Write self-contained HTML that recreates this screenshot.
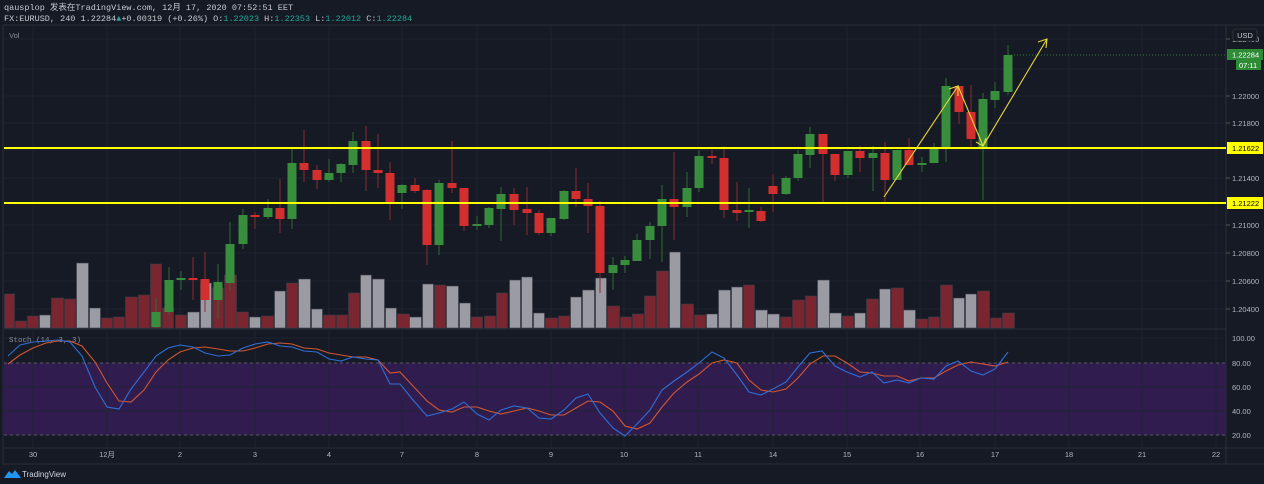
<!DOCTYPE html>
<html><head><meta charset="utf-8"><style>
html,body{margin:0;padding:0;background:#161a25;width:1264px;height:484px;overflow:hidden}
svg{display:block;font-family:"Liberation Sans","Noto Sans CJK SC",sans-serif}
</style></head><body>
<svg id="s" width="1264" height="484" viewBox="0 0 1264 484" xmlns="http://www.w3.org/2000/svg">
<rect width="1264" height="484" fill="#161a25"/>
<text x="4" y="10" font-size="8.5" fill="#c8cad0" font-family="Liberation Mono, Noto Sans CJK SC, monospace">qausplop 发表在TradingView.com, 12月 17, 2020 07:52:51 EET</text>
<text x="4" y="21" font-size="8.5" fill="#c8cad0" font-family="Liberation Mono, monospace">FX:EURUSD, 240 1.22284<tspan fill="#26a69a">▲</tspan>+0.00319 (+0.26%) O:<tspan fill="#26a69a">1.22023</tspan> H:<tspan fill="#26a69a">1.22353</tspan> L:<tspan fill="#26a69a">1.22012</tspan> C:<tspan fill="#26a69a">1.22284</tspan></text>
<g id="g"></g>
</svg>
<script>
var g=document.getElementById('g'),h='';
function L(x1,y1,x2,y2,c,w,extra){h+='<line x1="'+x1+'" y1="'+y1+'" x2="'+x2+'" y2="'+y2+'" stroke="'+c+'" stroke-width="'+(w||1)+'" '+(extra||'')+'/>';}
function R(x,y,w,hh,c,extra){h+='<rect x="'+x+'" y="'+y+'" width="'+w+'" height="'+hh+'" fill="'+c+'" '+(extra||'')+'/>';}
function T(x,y,t,c,s,a){h+='<text x="'+x+'" y="'+y+'" fill="'+c+'" font-size="'+(s||8)+'" '+(a?'text-anchor="'+a+'"':'')+'>'+t+'</text>';}
// pane borders
L(3,25,1264,25,'#2a2e39');L(3,25,3,465,'#2a2e39');L(1226,25,1226,465,'#2a2e39');
L(3,329,1226,329,'#2a2e39');L(3,448,1264,448,'#2a2e39');L(3,464,1264,464,'#2a2e39');
// stoch band
R(4,363,1222,72,'#311c50');
// grid
var days=[[33,'30'],[107,'12月'],[180,'2'],[255,'3'],[329,'4'],[402,'7'],[477,'8'],[551,'9'],[624,'10'],[698,'11'],[773,'14'],[847,'15'],[920,'16'],[995,'17'],[1069,'18'],[1142,'21'],[1216,'22']];
days.forEach(function(d){L(d[0],26,d[0],447,'#1f2330');T(d[0],457,d[1],'#b2b5be',7.5,'middle');});
var pr=[[39,'1.22400'],[96,'1.22000'],[123,'1.21800'],[178,'1.21400'],[225,'1.21000'],[253,'1.20800'],[281,'1.20600'],[309,'1.20400']];
pr.forEach(function(p){L(4,p[0],1226,p[0],'#1f2330');L(1226,p[0],1230,p[0],'#555');T(1232,p[0]+3,p[1],'#b2b5be',7.5);});
L(4,69,1226,69,'#1f2330');L(4,150,1226,150,'#1f2330');
[[338,'100.00'],[363,'80.00'],[387,'60.00'],[411,'40.00'],[435,'20.00']].forEach(function(p){L(4,p[0],1226,p[0],'#1f2330');T(1232,p[0]+3,p[1],'#b2b5be',7.5);});
L(4,363,1226,363,'#5d5668',1,'stroke-dasharray="3,3"');L(4,435,1226,435,'#5d5668',1,'stroke-dasharray="3,3"');
T(9,38,'Vol','#8a8e99',7.5);
h+='<text x="9" y="342" fill="#8a8e99" font-size="7.5" font-family="Liberation Mono,monospace">Stoch (14, 3, 3)</text>';
// volume
var V=[[4,14,294,'r'],[15,26,321,'r'],[27,38,316,'r'],[39,50,315,'g'],[51,63,298,'r'],[64,75,299,'r'],[76,88,263,'g'],[89,100,308,'g'],[101,112,318,'r'],[113,124,317,'r'],[125,137,297,'r'],[138,149,295,'r'],[150,161,264,'r'],[162,173,308,'r'],[175,186,315,'r'],[187,199,312,'g'],[212,223,288,'r'],[200,211,283,'g'],[224,236,275,'r'],[236,248,312,'r'],[249,260,317,'g'],[261,273,316,'r'],[274,285,291,'g'],[286,297,283,'r'],[298,310,279,'g'],[311,322,309,'g'],[323,335,315,'r'],[336,347,315,'r'],[348,359,293,'r'],[360,371,275,'g'],[372,384,279,'g'],[385,396,308,'g'],[397,409,314,'r'],[409,421,317,'g'],[422,433,284,'g'],[434,445,285,'r'],[446,458,286,'g'],[459,470,303,'g'],[471,482,317,'r'],[484,495,316,'r'],[496,507,293,'r'],[509,520,280,'g'],[521,532,277,'g'],[533,544,313,'g'],[545,557,318,'r'],[558,569,316,'r'],[570,581,297,'g'],[582,594,290,'g'],[595,606,278,'g'],[607,619,306,'r'],[620,631,317,'r'],[632,643,314,'r'],[644,655,296,'r'],[656,668,271,'r'],[669,680,252,'g'],[681,693,304,'r'],[694,705,315,'r'],[706,717,314,'g'],[718,730,290,'g'],[731,742,287,'g'],[743,754,285,'r'],[755,767,310,'g'],[767,779,314,'g'],[780,791,317,'r'],[792,804,300,'r'],[805,816,296,'r'],[817,829,280,'g'],[829,841,313,'g'],[842,853,316,'r'],[854,865,313,'g'],[866,878,299,'r'],[879,890,289,'g'],[891,903,288,'r'],[903,915,310,'g'],[916,927,319,'r'],[928,939,317,'r'],[940,952,285,'r'],[953,964,298,'g'],[965,976,294,'g'],[977,989,291,'r'],[990,1001,318,'r'],[1002,1014,313,'r']];
V.forEach(function(v){R(v[0]+0.5,v[2],v[1]-v[0],328-v[2],v[3]=='r'?'#7a2630':'#9b9ba3','stroke="#3a3d48" stroke-width="0.6"');});
// candles: x, top, bottom, wickTop, wickBottom, color
var C=[[156,312,327,298,328,'g'],[169,280,312,267,315,'g'],[181,278,280,271,290,'g'],[193,278,280,257,300,'r'],[205,279,300,252,312,'r'],[218,282,300,264,319,'g'],[230,244,283,222,291,'g'],[243,215,244,209,249,'g'],[255,215,217,212,229,'r'],[268,208,217,199,219,'g'],[280,208,219,179,233,'r'],[292,163,219,148,229,'g'],[304,163,170,130,182,'r'],[317,170,180,165,189,'r'],[329,173,180,159,182,'g'],[341,164,173,163,182,'g'],[353,141,165,132,173,'g'],[366,141,170,126,191,'r'],[378,170,173,134,188,'r'],[390,173,204,162,220,'r'],[402,185,193,184,209,'g'],[415,185,191,178,193,'r'],[427,190,245,189,265,'r'],[439,183,245,180,255,'g'],[452,183,188,141,193,'r'],[464,188,226,188,231,'r'],[477,224,226,216,230,'g'],[489,208,225,207,228,'g'],[501,194,209,187,241,'g'],[514,194,210,188,225,'r'],[527,209,213,187,235,'r'],[539,213,233,210,235,'r'],[551,218,233,218,236,'g'],[564,191,219,190,220,'g'],[576,191,199,168,207,'r'],[588,199,206,183,233,'r'],[600,206,273,201,293,'r'],[613,265,273,257,290,'g'],[625,260,265,256,273,'g'],[637,240,261,234,261,'g'],[650,226,240,222,259,'g'],[662,199,226,185,262,'g'],[674,199,207,152,240,'r'],[687,188,207,172,217,'g'],[699,156,188,150,192,'g'],[712,156,158,150,164,'r'],[724,158,210,146,218,'r'],[737,210,213,182,221,'r'],[749,210,212,188,228,'g'],[761,211,221,207,222,'r'],[773,186,194,174,212,'r'],[786,178,194,176,195,'g'],[798,154,178,150,181,'g'],[810,134,155,127,168,'g'],[823,134,154,134,203,'r'],[835,154,175,154,181,'r'],[848,151,175,151,178,'g'],[860,151,158,146,172,'r'],[873,153,158,146,191,'g'],[885,153,180,142,203,'r'],[897,150,180,150,180,'g'],[909,150,165,138,165,'r'],[922,163,165,157,172,'g'],[934,148,163,143,163,'g'],[946,86,148,78,162,'g'],[959,86,112,86,124,'r'],[971,112,139,85,148,'r'],[983,99,148,93,200,'g'],[995,91,100,82,108,'g'],[1008,55,92,45,95,'g']];
C.forEach(function(c){var col=c[5]=='g'?'#388e3c':'#d32f2f';var wc=c[5]=='g'?'#2e6b33':'#8e2a2e';L(c[0],c[3],c[0],c[4],wc,1);R(c[0]-4.5,c[1],9,Math.max(1.5,c[2]-c[1]),col);});
// stoch
var K=[[8,356],[20,345],[33,342],[46,341],[58,340],[70,342],[82,356],[95,387],[107,407],[119,409],[131,389],[144,372],[156,356],[168,348],[180,345],[193,347],[205,353],[218,356],[230,355],[243,348],[255,344],[268,342],[280,346],[292,347],[304,351],[317,352],[329,359],[341,361],[353,357],[366,359],[378,360],[390,384],[400,384],[413,400],[427,416],[439,413],[452,409],[464,402],[477,414],[489,420],[501,410],[514,406],[527,408],[539,418],[551,419],[564,410],[576,398],[588,394],[600,413],[613,428],[625,436],[637,424],[650,410],[662,390],[674,381],[687,372],[699,363],[712,352],[724,358],[737,375],[749,392],[761,395],[773,389],[786,382],[798,367],[810,353],[822,351],[835,366],[847,372],[860,377],[872,372],[884,383],[897,380],[909,383],[921,378],[934,379],[946,366],[958,361],[971,371],[983,375],[995,369],[1008,352]];
var D=[[8,364],[20,355],[33,348],[46,343],[58,341],[70,341],[82,346],[95,362],[107,383],[119,401],[131,402],[144,390],[156,372],[168,360],[180,352],[193,348],[205,347],[218,349],[230,351],[243,351],[255,348],[268,344],[280,343],[292,344],[304,348],[317,349],[329,353],[341,355],[353,357],[366,357],[378,360],[390,373],[400,372],[413,386],[427,401],[439,410],[452,412],[464,407],[477,407],[489,411],[501,414],[514,411],[527,408],[539,411],[551,415],[564,415],[576,408],[588,401],[600,402],[613,411],[625,426],[637,429],[650,423],[662,407],[674,393],[687,382],[699,374],[712,363],[724,360],[737,363],[749,380],[761,390],[773,392],[786,389],[798,378],[810,364],[823,356],[835,356],[847,363],[860,372],[872,373],[884,376],[897,376],[909,381],[921,378],[934,378],[946,371],[958,365],[971,362],[983,364],[995,366],[1008,362]];
function P(a,c){h+='<polyline fill="none" stroke="'+c+'" stroke-width="1.1" points="'+a.map(function(p){return p.join(',')}).join(' ')+'"/>';}
P(D,'#d2572f');P(K,'#2f6fd6');
// yellow levels
L(4,148,1226,148,'#ffff00',2);L(4,203,1226,203,'#ffff00',2);
// arrows
h+='<polyline fill="none" stroke="#e8d83a" stroke-width="1.1" points="884,197 958,86 983,146 1047,39"/>';
h+='<polyline fill="none" stroke="#e8d83a" stroke-width="1.1" points="949,89 958,86 958,96"/>';
h+='<polyline fill="none" stroke="#e8d83a" stroke-width="1.1" points="976,142 983,146 986,138"/>';
h+='<polyline fill="none" stroke="#e8d83a" stroke-width="1.1" points="1038,42 1047,39 1046,48"/>';
// last price dotted
L(1008,55,1226,55,'#2e7d32',1,'stroke-dasharray="1,2"');
// axis labels
R(1227,49,36,11,'#2e8b36');T(1232,57.5,'1.22284','#ffffff',7.5);
R(1236,60,25,10,'#2e8b36');T(1239,68,'07:11','#ffffff',7.5);
R(1227,142,36,12,'#ffff00');T(1232,151,'1.21622','#000',7.5);
R(1227,197,36,12,'#ffff00');T(1232,206,'1.21222','#000',7.5);
R(1233,29,24,12,'#161a25','stroke="#444" stroke-width="0.6" rx="2"');T(1245,38,'USD','#c8cad0',7.5,'middle');
// logo
h+='<path d="M4 478 L9 471 L12 474 L15 470 L21 478 Z" fill="#2196f3"/>';
T(22,477,'TradingView','#d1d4dc',8);
g.innerHTML=h;
</script>
</body></html>
